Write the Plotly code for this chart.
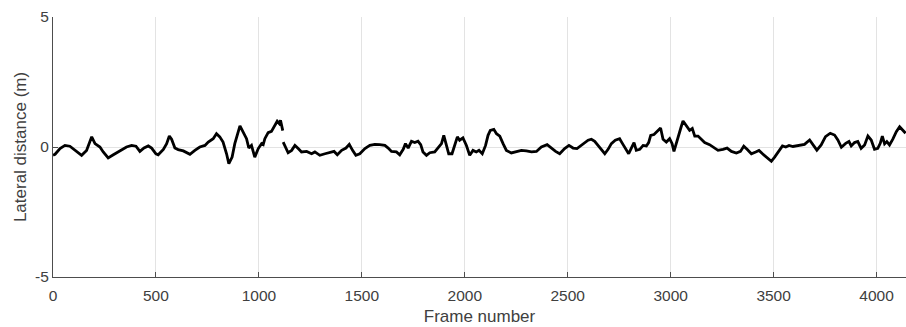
import plotly.graph_objects as go

frames = [0, 10, 34, 58, 82, 107, 139, 163, 188, 204, 228, 244, 268, 293, 325, 357, 382, 403, 422, 442,
          463, 479, 500, 511, 536, 552, 565, 576, 592, 608, 633, 665, 689, 713, 738, 754, 778, 794, 810, 826,
          843, 854, 870, 883, 908, 924, 940, 951, 964, 980, 997, 1013, 1021, 1029, 1045, 1061, 1077, 1089,
          1099, 1105, 1116, 1117,
          1118, 1126, 1142, 1159, 1175, 1191, 1207, 1232, 1256, 1272, 1296, 1321, 1345, 1365, 1381, 1402,
          1423, 1439, 1455, 1471, 1490, 1515, 1539, 1563, 1587, 1612, 1628, 1644, 1668, 1684, 1701, 1712,
          1725, 1741, 1757, 1773, 1786, 1797, 1814, 1830, 1854, 1874, 1887, 1898, 1911, 1922, 1938, 1951,
          1964, 1975, 1991, 2008, 2024, 2040, 2056, 2069, 2085, 2101, 2113, 2124, 2141, 2154, 2170, 2186,
          2202, 2226, 2251, 2275, 2299, 2324, 2348, 2372, 2400, 2420, 2441, 2461, 2485, 2506, 2526, 2545,
          2566, 2583, 2599, 2615, 2631, 2647, 2664, 2680, 2696, 2712, 2731, 2752, 2769, 2785, 2796, 2809,
          2822, 2833, 2850, 2866, 2882, 2893, 2903, 2919, 2935, 2951, 2963, 2979, 2995, 3007, 3016, 3028,
          3039, 3050, 3060, 3076, 3092, 3105, 3117, 3133, 3149, 3165, 3189, 3206, 3230, 3254, 3274, 3295,
          3319, 3339, 3355, 3371, 3392, 3413, 3429, 3446, 3468, 3489, 3505, 3527, 3543, 3559, 3575, 3594,
          3626, 3650, 3675, 3691, 3710, 3731, 3752, 3775, 3796, 3812, 3829, 3850, 3866, 3877, 3893, 3909,
          3925, 3942, 3958, 3974, 3990, 4006, 4018, 4028, 4039, 4050, 4063, 4079, 4096, 4112, 4128, 4141]

lateral = [-0.32, -0.28, -0.06, 0.06, 0.03, -0.13, -0.32, -0.13, 0.39, 0.13, 0.0, -0.19, -0.42, -0.30, -0.15, 0.0, 0.06, 0.03, -0.17, -0.04,
           0.04, -0.04, -0.26, -0.30, -0.09, 0.13, 0.42, 0.30, -0.04, -0.10, -0.15, -0.28, -0.13, 0.0, 0.06, 0.19, 0.32, 0.51, 0.39, 0.19,
           -0.26, -0.64, -0.39, 0.13, 0.81, 0.58, 0.32, -0.04, 0.06, -0.39, -0.06, 0.13, 0.09, 0.32, 0.55, 0.60, 0.84, 0.99,
           0.90, 1.03, 0.63, None,
           0.19, 0.06, -0.22, -0.13, 0.06, -0.06, -0.19, -0.17, -0.26, -0.19, -0.32, -0.26, -0.22, -0.17, -0.30, -0.13,
           -0.04, 0.10, -0.13, -0.32, -0.26, -0.06, 0.06, 0.10, 0.09, 0.06, -0.04, -0.17, -0.19, -0.30, -0.09, 0.13,
           -0.04, 0.22, 0.17, 0.22, 0.09, -0.19, -0.32, -0.22, -0.19, 0.0, 0.13, 0.45, 0.06, -0.26, -0.26, 0.06,
           0.39, 0.26, 0.35, 0.06, -0.32, -0.13, -0.19, -0.13, -0.26, 0.06, 0.45, 0.64, 0.68, 0.51, 0.42, 0.13,
           -0.13, -0.23, -0.19, -0.13, -0.15, -0.19, -0.17, 0.0, 0.09, -0.04, -0.17, -0.26, -0.06, 0.06, -0.04, -0.06,
           0.06, 0.17, 0.26, 0.30, 0.22, 0.06, -0.13, -0.26, -0.09, 0.13, 0.26, 0.32, 0.09, -0.09, -0.26, -0.04,
           0.17, -0.13, -0.09, 0.06, 0.04, 0.17, 0.45, 0.48, 0.60, 0.73, 0.30, 0.19, 0.32, 0.13, -0.17, 0.19,
           0.42, 0.75, 1.0, 0.81, 0.64, 0.71, 0.42, 0.42, 0.30, 0.17, 0.09, 0.0, -0.13, -0.09, -0.04, -0.17,
           -0.23, -0.17, 0.03, -0.09, -0.26, -0.19, -0.13, -0.26, -0.42, -0.55, -0.39, -0.13, 0.04, 0.0, 0.06, 0.02,
           0.06, 0.10, 0.27, 0.08, -0.12, 0.08, 0.40, 0.53, 0.46, 0.27, -0.01, 0.14, 0.21, 0.04, 0.17, 0.21,
           -0.05, 0.08, 0.42, 0.27, -0.09, -0.05, 0.14, 0.42, 0.12, 0.21, 0.08, 0.30, 0.59, 0.78, 0.63, 0.53]

x_ticks = [0, 500, 1000, 1500, 2000, 2500, 3000, 3500, 4000]
y_ticks = [-5, 0, 5]

fig = go.Figure()
fig.add_trace(go.Scatter(x=frames, y=lateral, mode="lines",
                         line=dict(color="black", width=2.8), connectgaps=False,
                         showlegend=False))

axis_color = "#4d4d4d"
txt = "#404040"
fam = "Liberation Sans, Arial, sans-serif"

fig.update_layout(
    width=906, height=327,
    margin=dict(l=53, r=0, t=17, b=50),
    paper_bgcolor="white", plot_bgcolor="white",
    font=dict(family=fam, size=15, color=txt),
)
fig.update_xaxes(range=[0, 4143], tickvals=x_ticks, ticktext=[str(v) for v in x_ticks],
                 showgrid=True, gridcolor="#e3e3e3", gridwidth=1,
                 showline=True, linecolor=axis_color, linewidth=1,
                 ticks="inside", ticklen=5, tickcolor=axis_color,
                 zeroline=False, ticklabelstandoff=4,
                 title=dict(text="Frame number", font=dict(family=fam, size=17, color=txt), standoff=7),
                 tickfont=dict(family=fam, size=15.5, color=txt))
fig.update_yaxes(range=[-5, 5], tickvals=y_ticks, ticktext=[str(v) for v in y_ticks],
                 showgrid=True, gridcolor="#e3e3e3", gridwidth=1,
                 showline=True, linecolor=axis_color, linewidth=1,
                 ticks="inside", ticklen=5, tickcolor=axis_color,
                 zeroline=False,
                 title=dict(text="Lateral distance (m)", font=dict(family=fam, size=17, color=txt), standoff=4),
                 tickfont=dict(family=fam, size=15.5, color=txt))

fig.write_html("out.html")
